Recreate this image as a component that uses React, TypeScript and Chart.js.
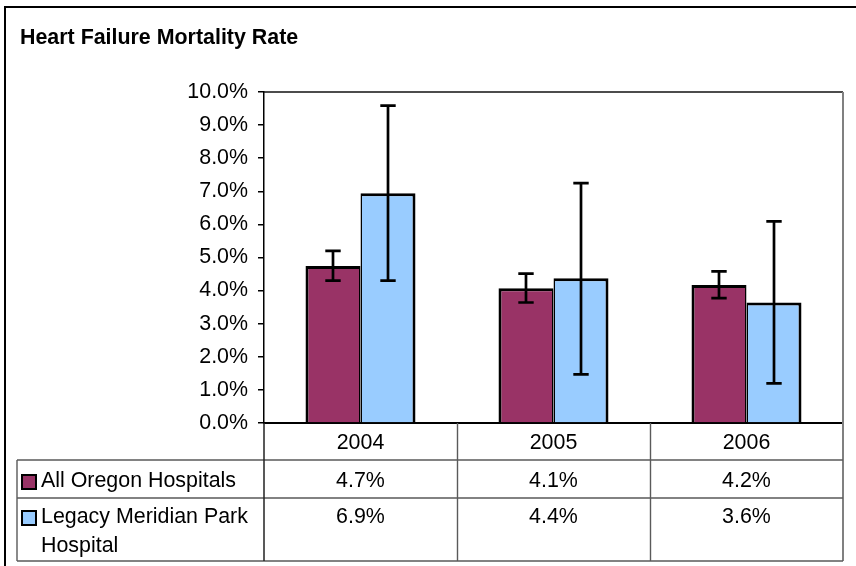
import React, { useEffect, useRef } from "react";
import { Chart, registerables } from "chart.js";

Chart.register(...registerables);

const title = "Heart Failure Mortality Rate";
const years = ["2004", "2005", "2006"];
const seriesNames = ["All Oregon Hospitals", "Legacy Meridian Park Hospital"];
const legendLines = [["All Oregon Hospitals"], ["Legacy Meridian Park", "Hospital"]];
const oregonRate = [4.74, 4.07, 4.17];
const legacyRate = [6.94, 4.37, 3.64];
const oregonLow = [4.3, 3.64, 3.77];
const oregonHigh = [5.2, 4.51, 4.58];
const legacyLow = [4.3, 1.47, 1.2];
const legacyHigh = [9.59, 7.25, 6.09];
const yTicks = [0, 1, 2, 3, 4, 5, 6, 7, 8, 9, 10];

const MAROON = "#993366";
const BLUE = "#99CCFF";
const FONT = "'Liberation Sans', Arial, sans-serif";
const FONT_SIZE = 21.4;
const TABLE_LINE = "#5a5a5a";

const lows = [oregonLow, legacyLow];
const highs = [oregonHigh, legacyHigh];
const colors = [MAROON, BLUE];
const rates = [oregonRate, legacyRate];

const errorBarPlugin = {
  id: "errorBars",
  afterDatasetsDraw(chart: any) {
    const ctx = chart.ctx;
    const y = chart.scales.y;
    ctx.save();
    ctx.strokeStyle = "#000";
    ctx.lineWidth = 2.7;
    chart.data.datasets.forEach((_: any, i: number) => {
      const meta = chart.getDatasetMeta(i);
      meta.data.forEach((bar: any, j: number) => {
        const x = bar.x;
        const yl = y.getPixelForValue(lows[i][j]);
        const yh = y.getPixelForValue(highs[i][j]);
        ctx.beginPath();
        ctx.moveTo(x, yl);
        ctx.lineTo(x, yh);
        ctx.moveTo(x - 7.7, yl);
        ctx.lineTo(x + 7.7, yl);
        ctx.moveTo(x - 7.7, yh);
        ctx.lineTo(x + 7.7, yh);
        ctx.stroke();
      });
    });
    ctx.restore();
  },
};

const tablePlugin = {
  id: "dataTable",
  afterDraw(chart: any) {
    const ctx = chart.ctx;
    const area = chart.chartArea;
    const xs = chart.scales.x;
    const n = years.length;
    const colW = (area.right - area.left) / n;
    const headerBottom = area.bottom + 37;
    const row1Bottom = headerBottom + 38;
    const row2Bottom = row1Bottom + 63;
    const tableLeft = 17;
    ctx.save();

    // outer chart border
    ctx.strokeStyle = "#000";
    ctx.lineWidth = 2;
    ctx.beginPath();
    ctx.moveTo(5, 900);
    ctx.lineTo(5, 7);
    ctx.lineTo(900, 7);
    ctx.stroke();

    // plot top line
    ctx.lineWidth = 1.4;
    ctx.strokeStyle = "#111";
    ctx.beginPath();
    ctx.moveTo(area.left, area.top);
    ctx.lineTo(area.right, area.top);
    ctx.stroke();

    // right plot/table line
    ctx.strokeStyle = "#808080";
    ctx.lineWidth = 2;
    ctx.beginPath();
    ctx.moveTo(area.right, area.top);
    ctx.lineTo(area.right, row2Bottom);
    ctx.stroke();

    // table grid
    ctx.strokeStyle = TABLE_LINE;
    ctx.lineWidth = 1.4;
    ctx.beginPath();
    for (let k = 1; k < n; k++) {
      const x = Math.round(area.left + colW * k) + 0.5;
      ctx.moveTo(x, area.bottom);
      ctx.lineTo(x, row2Bottom);
    }
    [headerBottom, row1Bottom, row2Bottom].forEach((yy) => {
      ctx.moveTo(tableLeft, yy);
      ctx.lineTo(area.right, yy);
    });
    ctx.moveTo(tableLeft, headerBottom);
    ctx.lineTo(tableLeft, row2Bottom);
    ctx.stroke();

    // y axis line continuing through table
    ctx.strokeStyle = "#222";
    ctx.lineWidth = 1.5;
    ctx.beginPath();
    ctx.moveTo(area.left, area.bottom);
    ctx.lineTo(area.left, row2Bottom);
    ctx.stroke();

    // title
    ctx.fillStyle = "#000";
    ctx.textBaseline = "alphabetic";
    ctx.textAlign = "left";
    ctx.font = `bold ${FONT_SIZE}px ${FONT}`;
    ctx.fillText(title, 20, 44);

    // legend cells
    ctx.font = `${FONT_SIZE}px ${FONT}`;
    legendLines.forEach((lines, i) => {
      const base = i === 0 ? row1Bottom - 11 : row1Bottom + 25;
      ctx.fillStyle = colors[i];
      ctx.fillRect(22, base - 12, 14, 14);
      ctx.strokeStyle = "#000";
      ctx.lineWidth = 2;
      ctx.strokeRect(22, base - 12, 14, 14);
      ctx.fillStyle = "#000";
      ctx.textAlign = "left";
      lines.forEach((line, li) => {
        ctx.fillText(line, 41, base + li * 29);
      });
      ctx.textAlign = "center";
      rates[i].forEach((v, j) => {
        ctx.fillText(v.toFixed(1) + "%", xs.getPixelForValue(j), base);
      });
    });
    ctx.restore();
  },
};

export default function App() {
  const canvasRef = useRef<HTMLCanvasElement | null>(null);

  useEffect(() => {
    const canvas = canvasRef.current;
    if (!canvas) return;
    const tickFont = { family: FONT, size: FONT_SIZE };
    const chart = new Chart(canvas, {
      type: "bar",
      data: {
        labels: years,
        datasets: [
          {
            label: seriesNames[0],
            data: oregonRate,
            backgroundColor: MAROON,
            borderColor: "#000",
            borderWidth: { left: 3, top: 3, right: 1.5, bottom: 0 },
            borderSkipped: false,
            categoryPercentage: 0.57,
            barPercentage: 1,
          },
          {
            label: seriesNames[1],
            data: legacyRate,
            backgroundColor: BLUE,
            borderColor: "#000",
            borderWidth: { left: 1.5, top: 3, right: 3, bottom: 0 },
            borderSkipped: false,
            categoryPercentage: 0.57,
            barPercentage: 1,
          },
        ],
      },
      options: {
        animation: false,
        responsive: false,
        maintainAspectRatio: false,
        events: [],
        layout: { padding: { top: 92, right: 13, left: 0, bottom: 0 } },
        plugins: {
          legend: { display: false },
          title: { display: false },
          tooltip: { enabled: false },
        },
        scales: {
          x: {
            grid: { display: false, drawTicks: false },
            border: { display: true, color: "#000", width: 2 },
            ticks: { font: tickFont, color: "#000", padding: 7 },
            afterFit: (s: any) => {
              s.height = 143;
            },
          },
          y: {
            min: 0,
            max: 10,
            afterBuildTicks: (s: any) => {
              s.ticks = yTicks.map((v) => ({ value: v }));
            },
            ticks: {
              font: tickFont,
              color: "#000",
              padding: 10,
              callback: (v: any) => Number(v).toFixed(1) + "%",
            },
            grid: {
              drawOnChartArea: false,
              drawTicks: true,
              tickLength: 6,
              color: "#000",
              lineWidth: 1.5,
            },
            border: { display: true, color: "#000", width: 1.5 },
            afterFit: (s: any) => {
              s.width = 264;
            },
          },
        },
      } as any,
      plugins: [errorBarPlugin, tablePlugin],
    });
    return () => chart.destroy();
  }, []);

  return (
    <div style={{ position: "absolute", left: 0, top: 0, width: 856, height: 566, background: "#fff" }}>
      <canvas ref={canvasRef} width={856} height={566} style={{ display: "block" }} />
    </div>
  );
}
